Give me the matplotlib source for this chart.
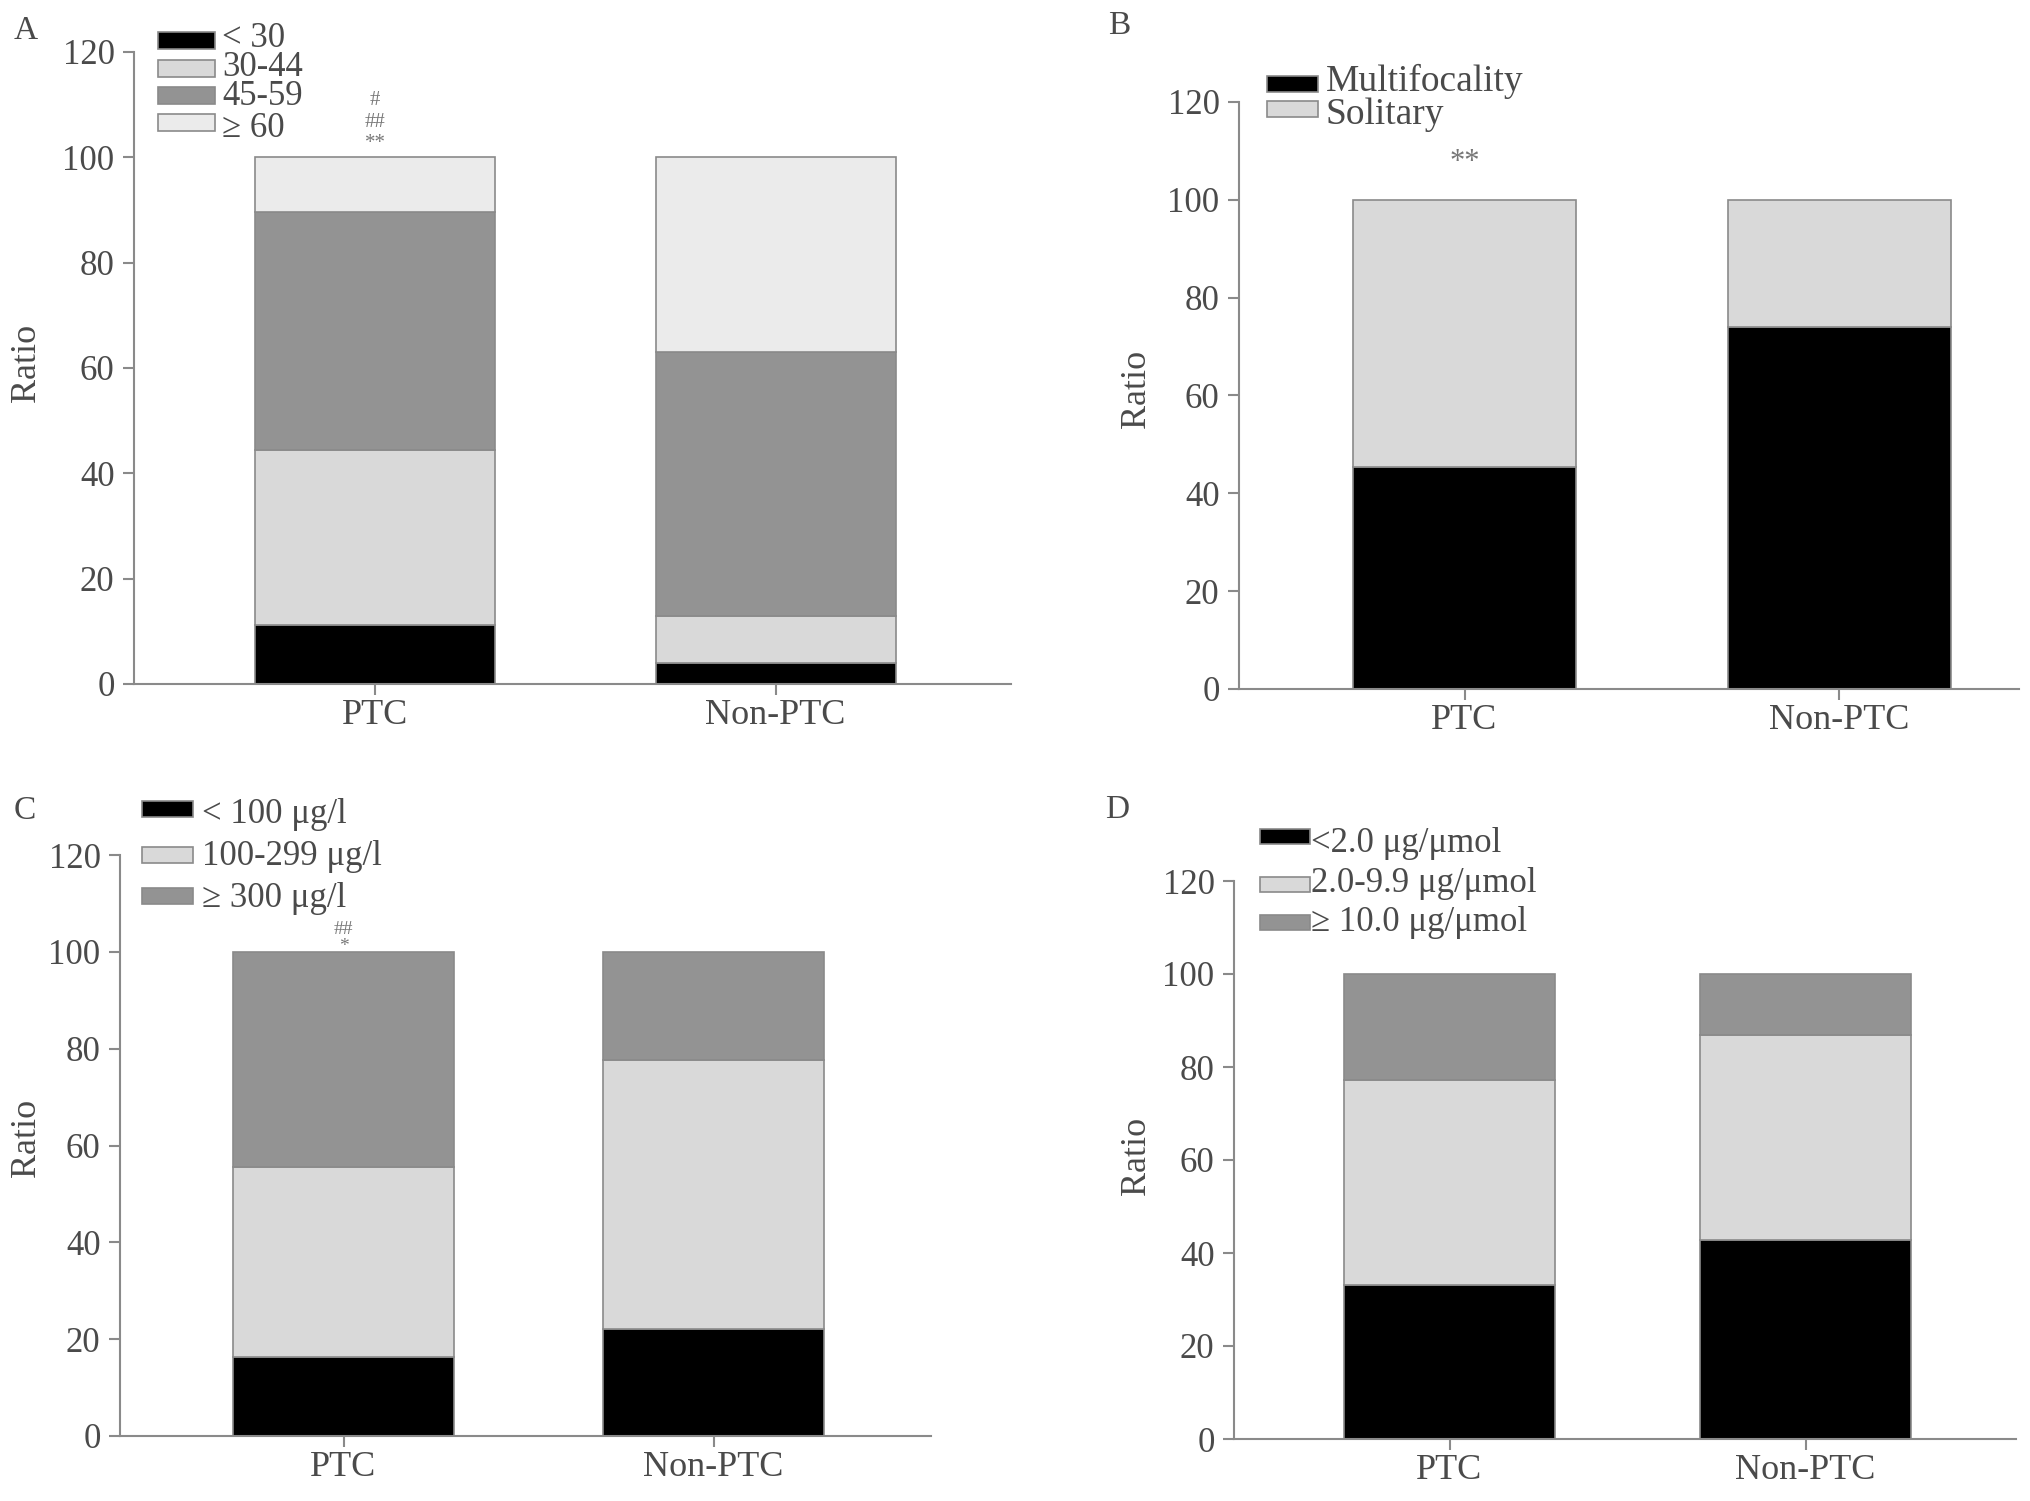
import matplotlib
matplotlib.use("Agg")
import matplotlib.pyplot as plt
from matplotlib.patches import Rectangle

W, H = 2031, 1501
TEXT = "#4a4a4a"
LINE = "#8a8a8a"
BLACK, LIGHT, DARK, PALE = "#000000", "#d9d9d9", "#939393", "#ebebeb"

plt.rcParams["font.family"] = ["Liberation Serif", "DejaVu Serif"]

groups = ["PTC", "Non-PTC"]

# A - age
age_labels = ["< 30", "30-44", "45-59", "\u2265 60"]
age_lt30 = [11.2, 4.0]
age_30_44 = [33.2, 9.0]
age_45_59 = [45.2, 50.0]
age_ge60 = [10.4, 37.0]

# B - focality
foc_labels = ["Multifocality", "Solitary"]
foc_multi = [45.4, 74.0]
foc_solitary = [54.6, 26.0]

# C - urine iodine
uic_labels = ["< 100 \u03bcg/l", "100-299 \u03bcg/l", "\u2265 300 \u03bcg/l"]
uic_lt100 = [16.3, 22.0]
uic_100_299 = [39.2, 55.6]
uic_ge300 = [44.5, 22.4]

# D - iodine/creatinine
ucr_labels = ["<2.0 \u03bcg/\u03bcmol", "2.0-9.9 \u03bcg/\u03bcmol", "\u2265 10.0 \u03bcg/\u03bcmol"]
ucr_lt2 = [33.1, 42.7]
ucr_2_10 = [44.0, 44.2]
ucr_ge10 = [22.9, 13.1]

fig = plt.figure(figsize=(W / 100, H / 100), dpi=100)


def fx(x):
    return x / W


def fy(y):
    return 1 - y / H


def panel(box, centers, bar_px, series, colors):
    left, right, top, bottom = box
    ax = fig.add_axes([fx(left), fy(bottom), fx(right - left), (bottom - top) / H])
    unit = centers[1] - centers[0]
    x = [0, 1]
    base = [0, 0]
    for vals, col in zip(series, colors):
        ax.bar(x, vals, bottom=base, width=bar_px / unit, color=col,
               edgecolor=LINE, linewidth=1.2)
        base = [b + v for b, v in zip(base, vals)]
    ax.set_xlim((left - centers[0]) / unit, (right - centers[0]) / unit)
    ax.set_ylim(0, 120)
    ax.set_yticks(range(0, 121, 20))
    ax.set_xticks(x)
    ax.set_xticklabels(groups, fontsize=26, color=TEXT)
    for s in ("top", "right"):
        ax.spines[s].set_visible(False)
    for s in ("left", "bottom"):
        ax.spines[s].set_color(LINE)
        ax.spines[s].set_linewidth(1.5)
    ax.tick_params(axis="y", labelsize=25, labelcolor=TEXT, color=LINE,
                   length=8, width=1.5, pad=6)
    ax.tick_params(axis="x", color=LINE, length=8, width=1.5, pad=3)
    return ax


def legend(x0, ycs, w, h, tx, bases, labels, colors, size):
    for yc, yb, lab, col in zip(ycs, bases, labels, colors):
        r = Rectangle((fx(x0), fy(yc + h / 2)), fx(w), h / H,
                      transform=fig.transFigure, facecolor=col,
                      edgecolor=LINE, linewidth=1.2)
        fig.add_artist(r)
        fig.text(fx(tx), fy(yb), lab, fontsize=size, color=TEXT,
                 ha="left", va="baseline")


def ylabel(x, y):
    fig.text(fx(x), fy(y), "Ratio", rotation=90, fontsize=26, color=TEXT,
             ha="center", va="center")


# Panel A
axA = panel((134, 1011, 52, 684), (375, 775.5), 240,
            [age_lt30, age_30_44, age_45_59, age_ge60], [BLACK, LIGHT, DARK, PALE])
legend(158, [40.5, 68, 95.5, 122], 57, 17, 222, [47, 76, 105, 137],
       age_labels, [BLACK, LIGHT, DARK, PALE], 25)
ylabel(26, 363)
fig.text(fx(26), fy(31), "A", fontsize=24, color=TEXT, ha="center", va="center")
axA.text(0, 110.8, "#", fontsize=15, color="#777777", ha="center", va="center")
axA.text(0, 106.6, "##", fontsize=15, color="#777777", ha="center", va="center")
axA.text(0, 102.6, "**", fontsize=15, color="#777777", ha="center", va="center")

# Panel B
axB = panel((1239, 2019, 102, 689), (1464.5, 1839), 223,
            [foc_multi, foc_solitary], [BLACK, LIGHT])
legend(1267, [83.5, 108.5], 51, 16, 1326, [91, 124], foc_labels,
       [BLACK, LIGHT], 27)
ylabel(1137, 389)
fig.text(fx(1119), fy(26), "B", fontsize=24, color=TEXT, ha="center", va="center")
axB.text(0, 107.7, "**", fontsize=22, color="#777777", ha="center", va="center")

# Panel C
axC = panel((120, 931, 855, 1436), (343.5, 713.5), 221,
            [uic_lt100, uic_100_299, uic_ge300], [BLACK, LIGHT, DARK])
legend(142, [808.5, 854.5, 896.5], 51, 16, 202, [823, 865, 907], uic_labels,
       [BLACK, LIGHT, DARK], 25)
ylabel(26, 1138)
fig.text(fx(25), fy(811), "C", fontsize=24, color=TEXT, ha="center", va="center")
axC.text(0, 104.6, "##", fontsize=14, color="#777777", ha="center", va="center")
axC.text(0, 101.0, "*", fontsize=14, color="#777777", ha="center", va="center")

# Panel D
axD = panel((1234, 2016, 881, 1439), (1449.5, 1805.5), 211,
            [ucr_lt2, ucr_2_10, ucr_ge10], [BLACK, LIGHT, DARK])
legend(1260, [836.5, 884, 922.5], 50, 15, 1311, [852, 892, 931], ucr_labels,
       [BLACK, LIGHT, DARK], 25)
ylabel(1137, 1156)
fig.text(fx(1117), fy(810), "D", fontsize=24, color=TEXT, ha="center", va="center")

fig.savefig("out.png", dpi=100, facecolor="white")
